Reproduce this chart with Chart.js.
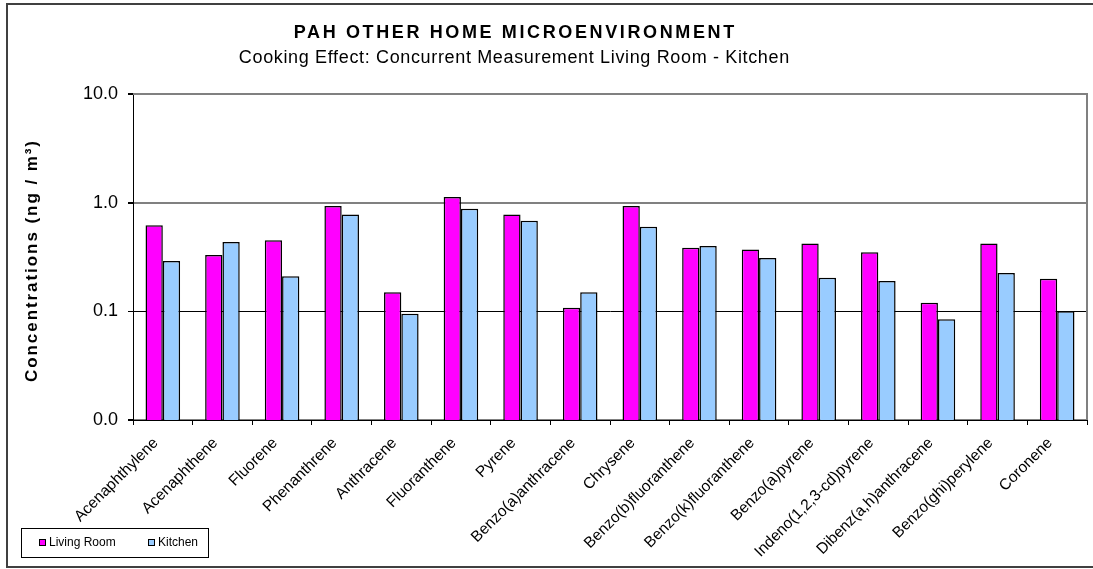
<!DOCTYPE html>
<html>
<head>
<meta charset="utf-8">
<script src="https://cdn.jsdelivr.net/npm/chart.js@4"></script>
<style>
  html, body { margin: 0; padding: 0; background: #fff; }
</style>
</head>
<body>
<canvas id="pahChart" width="1093" height="569"></canvas>
<script>
// Compuestos (eje x)
const compuestos = ['Acenaphthylene', 'Acenaphthene', 'Fluorene', 'Phenanthrene', 'Anthracene',
    'Fluoranthene', 'Pyrene', 'Benzo(a)anthracene', 'Chrysene', 'Benzo(b)fluoranthene',
    'Benzo(k)fluoranthene', 'Benzo(a)pyrene', 'Indeno(1,2,3-cd)pyrene', 'Dibenz(a,h)anthracene',
    'Benzo(ghi)perylene', 'Coronene'];

// Concentraciones (ng / m3)
const livingRoom = [0.62, 0.33, 0.45, 0.93, 0.15, 1.13, 0.78, 0.108, 0.93, 0.385, 0.37, 0.42, 0.35, 0.12, 0.42, 0.199];
const kitchen = [0.29, 0.435, 0.21, 0.78, 0.095, 0.88, 0.68, 0.15, 0.60, 0.40, 0.31, 0.204, 0.19, 0.0845, 0.225, 0.10];

// Marcas del eje y
const yTicks = [0.01, 0.1, 1, 10];

const titulo = 'PAH OTHER HOME MICROENVIRONMENT';
const subtitulo = 'Cooking Effect: Concurrent Measurement Living Room - Kitchen';
const tituloY = 'Concentrations (ng / m³)';

const fuente = '"Liberation Sans", Arial, sans-serif';
Chart.defaults.font.family = fuente;
Chart.defaults.color = '#000';

// texto centrado con espaciado entre letras (estilo Excel)
function textoEspaciado(ctx, texto, x, y, font, ancho) {
    ctx.font = font;
    ctx.letterSpacing = '0px';
    const w = ctx.measureText(texto).width;
    const esp = Math.max(0, (ancho - w) / texto.length);
    ctx.letterSpacing = esp + 'px';
    ctx.textAlign = 'center';
    ctx.textBaseline = 'alphabetic';
    ctx.fillText(texto, x + esp / 2, y);
    ctx.letterSpacing = '0px';
}

// Marco exterior, títulos, borde gris del área y leyenda
const marco = {
    id: 'marco',
    beforeDraw(chart) {
        const ctx = chart.ctx;
        ctx.save();
        ctx.fillStyle = '#fff';
        ctx.fillRect(0, 0, chart.width, chart.height);
        ctx.strokeStyle = '#404040';
        ctx.lineWidth = 2;
        ctx.strokeRect(7, 4, chart.width, 563);
        ctx.fillStyle = '#000';
        textoEspaciado(ctx, titulo, 514, 38, 'bold 18px ' + fuente, 443);
        textoEspaciado(ctx, subtitulo, 514, 62.5, '18px ' + fuente, 551);
        // título del eje y, girado
        ctx.translate(37, 261.5);
        ctx.rotate(-Math.PI / 2);
        textoEspaciado(ctx, tituloY, 0, 0, 'bold 17px ' + fuente, 243);
        ctx.restore();
    },
    beforeDatasetsDraw(chart) {
        const { left, right, top, bottom } = chart.chartArea;
        const ctx = chart.ctx;
        ctx.save();
        ctx.strokeStyle = '#808080';
        ctx.lineWidth = 2;
        ctx.beginPath();
        ctx.moveTo(left, top);
        ctx.lineTo(right, top);
        ctx.lineTo(right, bottom);
        ctx.stroke();
        ctx.restore();
    },
    afterDraw(chart) {
        const ctx = chart.ctx;
        ctx.save();
        ctx.strokeStyle = '#000';
        ctx.lineWidth = 1;
        ctx.strokeRect(21.5, 528.5, 187, 29);
        const xs = [39, 148];
        ctx.font = '12px ' + fuente;
        ctx.textBaseline = 'middle';
        chart.data.datasets.forEach((ds, i) => {
            ctx.fillStyle = ds.backgroundColor;
            ctx.fillRect(xs[i], 539, 7, 7);
            ctx.strokeRect(xs[i] + 0.5, 539.5, 6, 6);
            ctx.fillStyle = '#000';
            ctx.fillText(ds.label, xs[i] + 10, 543);
        });
        ctx.restore();
    }
};

new Chart(document.getElementById('pahChart'), {
    type: 'bar',
    data: {
        labels: compuestos,
        datasets: [
            {
                label: 'Living Room',
                data: livingRoom,
                backgroundColor: '#ff00ff',
                borderColor: '#000',
                borderWidth: 1.5
            },
            {
                label: 'Kitchen',
                data: kitchen,
                backgroundColor: '#99ccff',
                borderColor: '#000',
                borderWidth: 1.5
            }
        ]
    },
    options: {
        responsive: false,
        animation: false,
        layout: { padding: { left: 0, right: 6, top: 94, bottom: 0 } },
        categoryPercentage: 0.58,
        barPercentage: 1.0,
        plugins: {
            legend: { display: false },
            tooltip: { enabled: false }
        },
        scales: {
            x: {
                afterFit: s => { s.height = 149; },
                ticks: { autoSkip: false, maxRotation: 45, minRotation: 45, font: { size: 15.5 }, padding: 9, labelOffset: -7 },
                grid: { drawOnChartArea: false, offset: true, tickLength: 5, color: '#000' },
                border: { color: '#000', width: 1 }
            },
            y: {
                type: 'logarithmic',
                min: 0.01,
                max: 10,
                afterBuildTicks: s => { s.ticks = yTicks.map(v => ({ value: v })); },
                afterFit: s => { s.width = 133; },
                ticks: { callback: v => Number(v).toFixed(1), font: { size: 18 }, padding: 10 },
                grid: {
                    color: c => (c.tick && c.tick.value === 0.1) ? '#000' : '#808080',
                    lineWidth: c => (c.tick && c.tick.value === 0.1) ? 1 : 2,
                    tickLength: 5,
                    tickColor: '#000'
                },
                border: { color: '#000', width: 1 }
            }
        }
    },
    plugins: [marco]
});
</script>
</body>
</html>
